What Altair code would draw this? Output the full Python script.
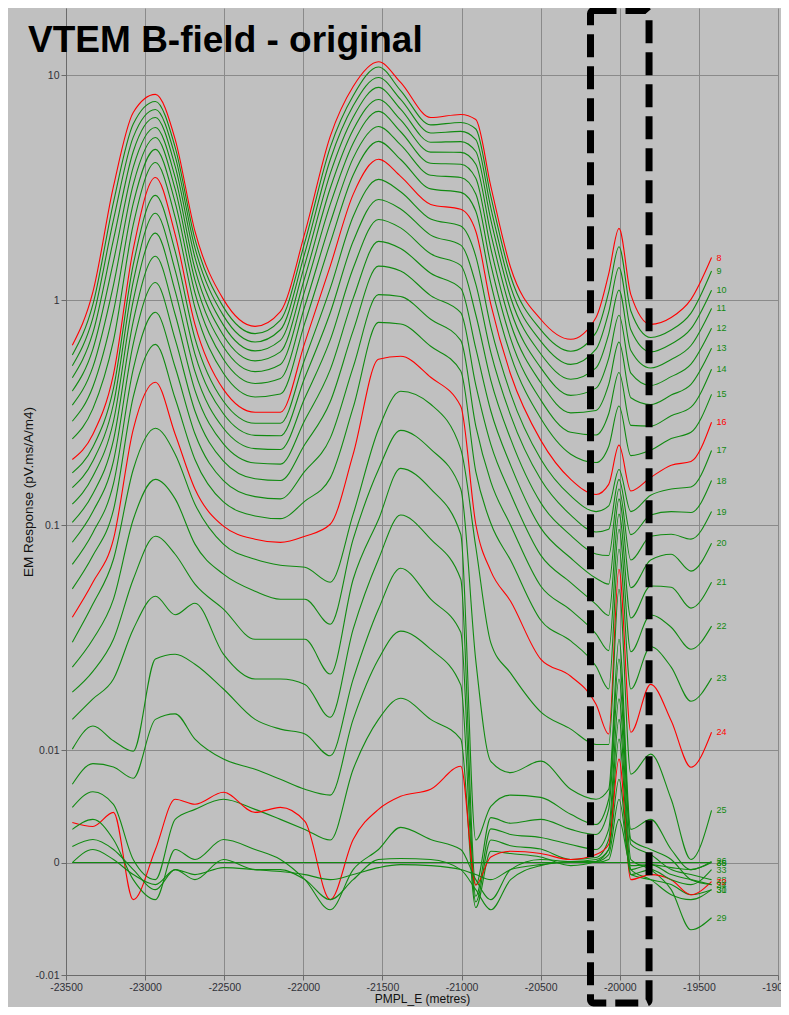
import altair as alt
import pandas as pd

# distance along line (metres)
X_POS = [-23460, -23330, -23200, -23075, -22935, -22810, -22685, -22505, -22305, -22145,
         -21990, -21830, -21685, -21525, -21385, -21195, -21005, -20910, -20815, -20690,
         -20500, -20310, -20150, -20070, -20005, -19930, -19805, -19675, -19550, -19420]

CH8 = [0.631, 1.09, 3.21, 6.85, 8.24, 5.20, 2.03, 1.01, 0.766, 0.891, 2.00, 5.36, 8.93, 11.5, 9.31,
       6.50, 6.71, 6.37, 3.21, 1.40, 0.824, 0.671, 0.839, 1.31, 2.09, 1.06, 0.782, 0.839, 1.01, 1.55]
CH9 = [0.571, 0.959, 2.73, 6.08, 7.66, 4.79, 1.87, 0.933, 0.711, 0.817, 1.82, 4.79, 8.13, 10.9, 8.57,
       6.03, 6.18, 5.78, 2.90, 1.28, 0.741, 0.594, 0.719, 1.09, 1.73, 0.897, 0.684, 0.738, 0.877, 1.35]
CH10 = [0.512, 0.836, 2.28, 5.32, 7.06, 4.37, 1.71, 0.855, 0.653, 0.740, 1.63, 4.22, 7.33, 9.80, 7.83,
        5.55, 5.64, 5.19, 2.58, 1.15, 0.659, 0.519, 0.607, 0.887, 1.40, 0.740, 0.590, 0.640, 0.748, 1.11]
CH11 = [0.453, 0.718, 1.86, 4.59, 6.50, 3.94, 1.55, 0.776, 0.596, 0.664, 1.45, 3.66, 6.52, 8.85, 7.08,
        5.05, 5.08, 4.59, 2.28, 1.03, 0.579, 0.446, 0.501, 0.708, 1.11, 0.598, 0.500, 0.546, 0.630, 0.921]
CH12 = [0.395, 0.607, 1.49, 3.91, 5.87, 3.52, 1.38, 0.698, 0.538, 0.590, 1.27, 3.15, 5.74, 7.82, 6.34,
        4.56, 4.55, 4.03, 1.98, 0.906, 0.502, 0.378, 0.407, 0.552, 0.859, 0.475, 0.418, 0.458, 0.520, 0.751]
CH13 = [0.342, 0.506, 1.17, 3.28, 5.30, 3.12, 1.23, 0.622, 0.482, 0.519, 1.11, 2.67, 5.00, 6.92, 5.62,
        4.07, 4.03, 3.49, 1.70, 0.789, 0.431, 0.316, 0.324, 0.423, 0.652, 0.369, 0.344, 0.379, 0.423, 0.612]
CH14 = [0.290, 0.413, 0.893, 2.70, 4.69, 2.72, 1.08, 0.547, 0.427, 0.449, 0.946, 2.21, 4.29, 5.93, 4.91,
        3.60, 3.52, 2.97, 1.44, 0.676, 0.361, 0.259, 0.252, 0.313, 0.478, 0.278, 0.276, 0.307, 0.335, 0.494]
CH15 = [0.242, 0.330, 0.662, 2.17, 4.10, 2.34, 0.929, 0.474, 0.372, 0.383, 0.796, 1.80, 3.61, 5.09, 4.23,
        3.13, 3.02, 2.49, 1.19, 0.571, 0.299, 0.207, 0.190, 0.224, 0.339, 0.204, 0.216, 0.243, 0.259, 0.382]
CH16 = [0.196, 0.254, 0.469, 1.69, 3.52, 1.96, 0.782, 0.402, 0.318, 0.318, 0.650, 1.42, 2.96, 4.24, 3.56,
        2.67, 2.54, 2.03, 0.959, 0.469, 0.239, 0.160, 0.137, 0.152, 0.227, 0.142, 0.163, 0.185, 0.192, 0.287]
CH17 = [0.171, 0.223, 0.406, 1.44, 2.93, 1.65, 0.678, 0.356, 0.284, 0.284, 0.550, 1.13, 2.36, 3.45, 3.04,
        2.30, 2.14, 1.57, 0.760, 0.385, 0.197, 0.135, 0.115, 0.122, 0.177, 0.115, 0.136, 0.145, 0.148, 0.215]
CH18 = [0.147, 0.193, 0.346, 1.21, 2.44, 1.36, 0.577, 0.313, 0.251, 0.250, 0.455, 0.881, 1.83, 2.81, 2.55,
        1.95, 1.76, 1.18, 0.587, 0.308, 0.160, 0.111, 0.0933, 0.0959, 0.160, 0.0908, 0.111, 0.115, 0.114, 0.158]
CH19 = [0.124, 0.165, 0.290, 0.998, 1.99, 1.10, 0.483, 0.270, 0.219, 0.217, 0.369, 0.667, 1.39, 2.29, 2.10,
        1.61, 1.43, 0.863, 0.441, 0.242, 0.126, 0.0902, 0.0745, 0.0733, 0.145, 0.0700, 0.0893, 0.0912, 0.0867, 0.115]
CH20 = [0.103, 0.138, 0.239, 0.807, 1.57, 0.865, 0.398, 0.230, 0.189, 0.187, 0.294, 0.492, 1.02, 1.83, 1.70,
        1.32, 1.13, 0.611, 0.322, 0.185, 0.0973, 0.0715, 0.0581, 0.0547, 0.131, 0.0527, 0.0700, 0.0743, 0.0625, 0.0832]
CH21 = [0.0840, 0.115, 0.193, 0.641, 1.20, 0.670, 0.322, 0.193, 0.161, 0.158, 0.229, 0.354, 0.733, 1.42, 1.35,
        1.05, 0.881, 0.420, 0.229, 0.138, 0.0736, 0.0556, 0.0445, 0.0397, 0.112, 0.0387, 0.0537, 0.0530, 0.0428, 0.0558]
CH22 = [0.0670, 0.0927, 0.153, 0.495, 0.885, 0.504, 0.255, 0.158, 0.134, 0.131, 0.174, 0.244, 0.505, 1.06, 1.04,
        0.824, 0.664, 0.276, 0.156, 0.100, 0.0537, 0.0419, 0.0329, 0.0277, 0.0960, 0.0274, 0.0399, 0.0352, 0.0281, 0.0356]
CH23 = [0.0521, 0.0733, 0.117, 0.372, 0.637, 0.366, 0.196, 0.127, 0.110, 0.107, 0.128, 0.162, 0.334, 0.798, 0.785,
        0.625, 0.485, 0.173, 0.102, 0.0698, 0.0379, 0.0306, 0.0236, 0.0187, 0.0782, 0.0187, 0.0288, 0.0234, 0.0165, 0.0209]
CH24 = [0.0390, 0.0558, 0.0867, 0.267, 0.432, 0.254, 0.145, 0.0991, 0.0867, 0.0839, 0.0893, 0.101, 0.207, 0.547, 0.564,
        0.455, 0.338, 0.101, 0.0625, 0.0459, 0.0254, 0.0213, 0.0160, 0.0118, 0.0637, 0.0120, 0.0196, 0.0135, 0.00848, 0.0120]
CH25 = [0.0302, 0.0446, 0.0706, 0.177, 0.270, 0.207, 0.124, 0.0824, 0.0706, 0.0664, 0.0650, 0.0558, 0.112, 0.267, 0.394,
        0.345, 0.218, 0.0800, 0.0300, 0.0220, 0.0148, 0.0124, 0.0106, 0.0106, 0.0519, 0.00786, 0.00964, 0.00563, 0.00027, 0.00464]
CH26 = [0.0234, 0.0311, 0.0469, 0.106, 0.160, 0.131, 0.0824, 0.0606, 0.0509, 0.0469, 0.0469, 0.0363, 0.0867, 0.177, 0.264,
        0.218, 0.145, 0.0250, 0.0090, 0.0080, 0.00902, 0.00652, 0.00563, 0.00652, 0.0311, 0.00295, 0.00384, 0.00116, -0.000625, 0.0001]
CH27 = [0.0181, 0.0224, 0.0311, 0.0575, 0.0893, 0.0743, 0.0547, 0.0424, 0.0311, 0.0311, 0.0311, 0.0218, 0.0575, 0.106, 0.179,
        0.145, 0.0912, 0.0020, 0.0050, 0.0060, 0.0058, 0.00429, 0.00339, 0.00563, 0.0254, 0.00205, 0.00116, 0.00027, -0.00152, -0.00196]
CH28 = [0.0137, 0.0169, 0.0207, 0.0345, 0.0483, 0.0400, 0.0450, 0.0267, 0.0207, 0.0207, 0.0196, 0.0140, 0.0345, 0.0706, 0.111,
        0.0867, 0.0575, -0.0020, 0.0040, 0.0035, 0.00384, 0.00295, 0.0025, 0.00473, 0.0207, 0.00161, 0.00071, -0.000625, -0.00107, -0.00152]
CH29 = [0.0101, 0.0128, 0.0110, 0.0099, 0.0254, 0.0267, 0.0241, 0.0187, 0.0137, 0.0124, 0.0118, 0.0095, 0.0207, 0.0424, 0.0644,
        0.0469, 0.0334, -0.0030, 0.0030, 0.0025, 0.00223, 0.00161, 0.00116, 0.00295, 0.0169, 0.00027, -0.000625, -0.00241, -0.00598, -0.00491]
CH30 = [0.00697, 0.0088, 0.0085, 0.0075, 0.0137, 0.0145, 0.0112, 0.0092, 0.0083, 0.00741, 0.00652, 0.0060, 0.0137, 0.0254, 0.0338,
        0.0281, 0.0195, -0.0035, 0.0020, 0.0015, 0.0012, 0.00027, 0.000447, 0.00205, 0.0137, -0.000625, -0.00152, -0.00286, -0.0033, -0.00241]
CH31 = [0.00491, 0.0063, 0.00518, 0.00027, -0.00152, 0.00384, 0.00473, 0.00563, 0.00473, 0.00384, 0.00295, 0.00200, 0.0083, 0.0137, 0.017,
        0.0137, 0.0112, -0.0040, 0.0010, 0.0008, 0.0005, -0.00027, 0.00009, 0.00116, 0.0112, -0.00107, -0.00152, -0.00196, -0.00286, -0.00241]
CH32 = [0.00357, 0.00321, 0.00446, -0.0033, 0.00116, 0.00563, 0.00518, 0.00625, 0.00446, 0.00491, 0.00366, -0.0033, 0.00205, 0.00473, 0.00589,
        0.00652, 0.00857, -0.0020, 0.0005, 0.0010, 0.0008, 0.00027, 0.00071, 0.00161, 0.0092, -0.00152, -0.00107, -0.00152, -0.00286, -0.0017]
CH33 = [0.00295, 0.00384, 0.00205, -0.00152, -0.0033, 0.00116, 0.00027, 0.00205, 0.00116, 0.00027, -0.00152, -0.0042, -0.000625, 0.00116, 0.00313,
        0.00205, 0.00116, -0.00152, -0.0033, -0.000625, 0.00027, 0.00009, 0.00027, 0.00116, 0.00741, -0.00107, -0.000625, -0.00152, -0.00196, -0.000625]
CH34 = [0.00143, 0.00205, 0.00116, -0.000625, -0.00241, -0.000625, -0.00152, 0.00027, -0.000625, -0.000625, -0.00152, -0.0033, -0.00152, 0.00027, 0.00036,
        0.00027, -0.000625, -0.00241, -0.0042, -0.00152, -0.00027, 0.00009, 0.00009, 0.00071, 0.00563, -0.000625, -0.00018, -0.00107, -0.00152, -0.00196]
CH35 = [0.0, 0.00116, 0.00027, -0.00107, -0.00196, -0.000625, -0.00107, -0.00045, -0.000625, -0.0008, -0.00107, -0.00152, -0.00107, -0.00045, -0.00018,
        -0.00027, -0.000625, -0.00107, -0.00152, -0.000625, -0.00018, 0.0, 0.0, 0.00027, 0.00384, -0.00027, -0.00018, -0.00045, -0.000625, 0.0]
CH36 = [0.0, 0.0, 0.0, 0.0, 0.0, 0.0, 0.0, 0.0, 0.0, 0.0, 0.0, 0.0, 0.0, 0.0, 0.0,
        0.0, 0.0, 0.0, 0.0, 0.0, 0.0, 0.0, 0.0, 0.0, 0.0, 0.0, 0.0, 0.0, 0.0, 0.0]

SERIES = {8: CH8, 9: CH9, 10: CH10, 11: CH11, 12: CH12, 13: CH13, 14: CH14, 15: CH15,
          16: CH16, 17: CH17, 18: CH18, 19: CH19, 20: CH20, 21: CH21, 22: CH22, 23: CH23,
          24: CH24, 25: CH25, 26: CH26, 27: CH27, 28: CH28, 29: CH29, 30: CH30, 31: CH31,
          32: CH32, 33: CH33, 34: CH34, 35: CH35, 36: CH36}
RED_CHANNELS = [8, 16, 24, 32]

X_TICKS = [-23500, -23000, -22500, -22000, -21500, -21000, -20500, -20000, -19500, -19000]
BOX_X = [-20185, -19815]

RED = "#ff0000"
GREEN = "#118a11"
FONT = "Liberation Sans"

rows = []
for ch, vals in SERIES.items():
    for i, (x, v) in enumerate(zip(X_POS, vals)):
        rows.append({"x": x, "v": v, "ch": str(ch), "i": i})
df = pd.DataFrame(rows)
lab = df[df["i"] == len(X_POS) - 1].copy()

ch_domain = [str(c) for c in SERIES]
ch_range = [RED if c in RED_CHANNELS else GREEN for c in SERIES]
color = alt.Color("ch:N", scale=alt.Scale(domain=ch_domain, range=ch_range), legend=None)

# log above 0.01, linear between -0.01 and 0.01 (as in the original display)
TRANSFORM = "datum.v >= 0.01 ? 0.5 + log(datum.v / 0.01) / LN10 : datum.v / 0.02"
tick_pos = [-0.5, 0, 0.5, 1.5, 2.5, 3.5]
label_expr = ("datum.value == 3.5 ? '10' : datum.value == 2.5 ? '1' : datum.value == 1.5 ? '0.1' : "
              "datum.value == 0.5 ? '0.01' : datum.value == 0 ? '0' : '-0.01'")

x_enc = alt.X("x:Q", scale=alt.Scale(domain=[-23500, -19000], nice=False, zero=False),
              axis=alt.Axis(values=X_TICKS, labelExpr="'' + datum.value", title="PMPL_E (metres)",
                            grid=True, labelFlush=False))
y_enc = alt.Y("t:Q", scale=alt.Scale(domain=[-0.5, 3.8], nice=False, zero=False),
              axis=alt.Axis(values=tick_pos, labelExpr=label_expr,
                            title="EM Response (pV.ms/A/m4)", grid=True))

lines = alt.Chart(df).transform_calculate(t=TRANSFORM).mark_line(
    interpolate="monotone", strokeWidth=1.1
).encode(
    x=x_enc, y=y_enc, color=color, detail="ch:N",
    strokeWidth=alt.condition("datum.ch == '36'", alt.value(2), alt.value(1.1)),
    order="i:Q",
)

labels = alt.Chart(lab).transform_calculate(t=TRANSFORM).mark_text(
    align="left", baseline="middle", dx=5, fontSize=9, font=FONT
).encode(x="x:Q", y="t:Q", text="ch:N", color=color)

box_df = pd.DataFrame({"x0": [BOX_X[0]], "x1": [BOX_X[1]]})
box = alt.Chart(box_df).mark_rect(
    fillOpacity=0, stroke="black", strokeWidth=7, strokeDash=[23, 9], cornerRadius=3, clip=False
).encode(x="x0:Q", x2="x1:Q", y=alt.value(2.5), y2=alt.value(995))

chart = alt.layer(lines, labels, box).properties(
    width=712, height=967,
    title=alt.Title("VTEM B-field - original", anchor="start", fontSize=37, fontWeight="bold",
                    font=FONT, color="black", dx=7, dy=82, baseline="alphabetic", offset=0),
    autosize=alt.AutoSizeParams(type="none"),
    padding={"left": 58, "top": 0, "right": 3, "bottom": 32},
    background="#c0c0c0",
).configure_view(strokeWidth=0).configure_axis(
    labelFont=FONT, labelFontSize=10.5, labelColor="#303038", tickSize=5, tickColor="#6a6a6a",
    domainColor="#6a6a6a", gridColor="#8a8a8a", gridWidth=1, labelPadding=2,
    titleFont=FONT, titleFontWeight="normal", titleColor="#111111",
).configure_axisX(titleFontSize=12, titlePadding=1).configure_axisY(titleFontSize=13.5, titlePadding=0)

chart.save("out.html", embed_options={"renderer": "svg", "actions": False})
